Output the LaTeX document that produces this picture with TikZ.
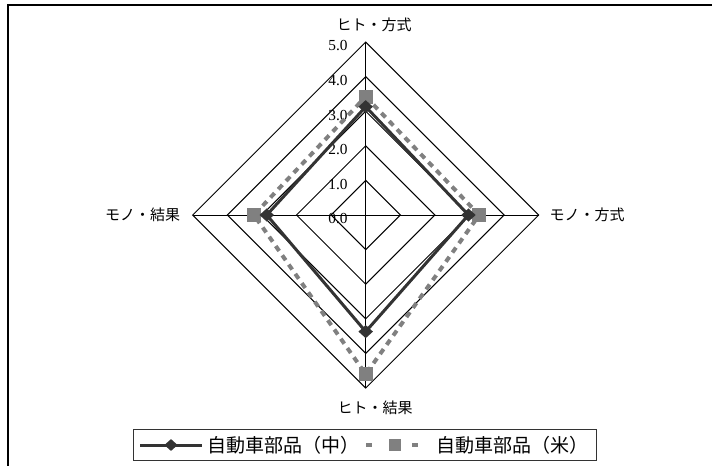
\documentclass[tikz,border=0pt]{standalone}
\usepackage{fontspec}
\setmainfont{Liberation Serif}
\newfontfamily\jpfont{Noto Sans CJK JP}
\usetikzlibrary{shapes.geometric,positioning}

\tikzset{
  grid line/.style={line width=0.75pt},
  chu line/.style={line width=2.25pt, draw=black!80},
  bei line/.style={line width=3pt, draw=black!50, dash pattern=on 4.5pt off 4pt},
  chu mark/.style={diamond, fill=black!80, inner sep=0pt, minimum width=11pt, minimum height=10pt},
  bei mark/.style={rectangle, fill=black!50, inner sep=0pt, minimum size=10.5pt},
  axis label/.style={font=\jpfont\fontsize{11.25}{13}\selectfont},
  tick label/.style={font=\fontsize{11.5}{13}\selectfont},
  key label/.style={font=\jpfont\fontsize{14.25}{16}\selectfont, anchor=west, inner sep=0pt},
}

\begin{document}
\begin{tikzpicture}[x = 0.75pt, y = -0.75pt]
    \useasboundingbox (0,0) rectangle (712,465);
    % frame
    \draw[line width=1pt] (8,470) -- (8,5) -- (720,5);
    \def\u{34.6}
    \begin{scope}[shift={(365.7,215)}]
    % rings and axes
    \foreach \r in {1,...,5}
        \draw[grid line] (0,{-\r*\u}) -- ({\r*\u},0) -- (0,{\r*\u}) -- ({-\r*\u},0) -- cycle;
    \draw[grid line] (0,{-5*\u}) -- (0,{5*\u});
    \draw[grid line] ({-5*\u},0) -- ({5*\u},0);
    \foreach \r in {0,...,5}
        \node[tick label] (tick\r) at (-27.7,{-\r*\u+4}) {\r.0};
    % axis names
    \node[axis label] (hito hoshiki) at (8.3,-190) {ヒト・方式};
    \node[axis label] (mono hoshiki) at (221.3,0) {モノ・方式};
    \node[axis label] (hito kekka) at (9.3,193) {ヒト・結果};
    \node[axis label] (mono kekka) at (-223.1,0) {モノ・結果};
    % data
    \coordinate (bei1) at (0,{-3.42*\u});
    \coordinate (bei2) at ({3.28*\u},0);
    \coordinate (bei3) at (0,{4.6*\u});
    \coordinate (bei4) at ({-3.23*\u},0);
    \coordinate (chu1) at (0,{-3.13*\u});
    \coordinate (chu2) at ({2.97*\u},0);
    \coordinate (chu3) at (0,{3.37*\u});
    \coordinate (chu4) at ({-2.86*\u},0);
    \draw[bei line] (bei1) -- (bei2) -- (bei3) -- (bei4) -- cycle;
    \foreach \p in {bei1,bei2,bei3,bei4}
        \node[bei mark] at (\p) {};
    \draw[chu line] (chu1) -- (chu2) -- (chu3) -- (chu4) -- cycle;
    \foreach \p in {chu1,chu2,chu3,chu4}
        \node[chu mark] at (\p) {};
    \end{scope}
    % legend
    \draw[line width=0.75pt, draw=black!80] (133,429) rectangle (596,460);
    \coordinate (key1a) at (140,445);
    \coordinate (key1b) at (202,445);
    \draw[chu line] (key1a) -- (key1b);
    \node[chu mark, minimum width=10pt, minimum height=9pt] at (171,445) {};
    \node[key label, right=3.75pt of key1b] (key1) {自動車部品（中）};
    \coordinate (key2a) at (366,445);
    \coordinate (key2b) at (418,445);
    \draw[bei line, dash pattern=on 4.5pt off 30pt] (key2a) -- (key2b);
    \node[bei mark, minimum size=8.5pt] at (395,445) {};
    \node[key label, right=14pt of key2b] (key2) {自動車部品（米）};
\end{tikzpicture}
\end{document}
